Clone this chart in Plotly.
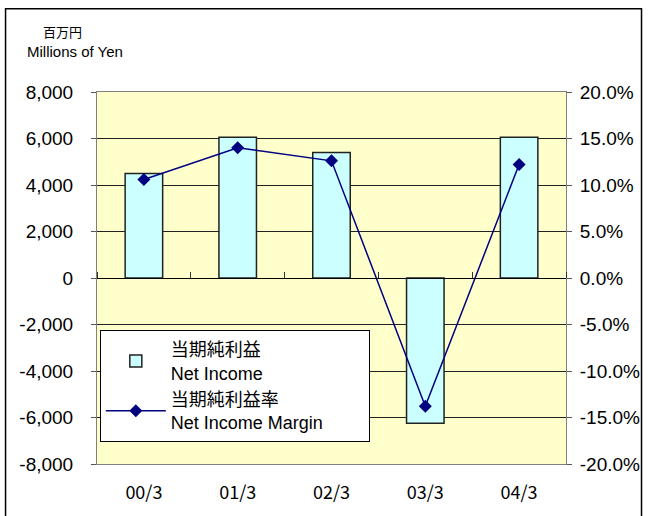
import plotly.graph_objects as go

categories = ["00/3", "01/3", "02/3", "03/3", "04/3"]
net_income = [4500, 6050, 5400, -6250, 6050]
margin = [10.6, 14.0, 12.6, -13.8, 12.2]

yen_ticks = [-8000, -6000, -4000, -2000, 0, 2000, 4000, 6000, 8000]
yen_labels = [f"{v:,}" for v in yen_ticks]
pct_ticks = [-20, -15, -10, -5, 0, 5, 10, 15, 20]
pct_labels = [f"{v:.1f}%" for v in pct_ticks]

JP_FONT = "Noto Sans CJK JP"
EN_FONT = "Arial, Liberation Sans"
MIX_FONT = "Arial, Liberation Sans, Noto Sans CJK JP"
PAD = "\u00a0" * 8  # widens the legend box like the original

fig = go.Figure()

fig.add_trace(go.Bar(
    x=categories, y=net_income,
    name="当期純利益<br>Net Income",
    marker=dict(color="#CCFFFF", line=dict(color="#222222", width=1.5)),
    width=0.4,
    xaxis="x", yaxis="y",
))

fig.add_trace(go.Scatter(
    x=categories, y=margin,
    name="当期純利益率<br>Net Income Margin" + PAD,
    mode="lines+markers",
    line=dict(color="#000080", width=1.5),
    marker=dict(symbol="diamond", size=10, color="#000080"),
    xaxis="x2", yaxis="y2",
))

fig.update_layout(
    width=652, height=516,
    margin=dict(l=97, r=83, t=92, b=48),
    paper_bgcolor="white",
    plot_bgcolor="#FFFFCC",
    font=dict(family=EN_FONT, size=19, color="black"),
    showlegend=True,
    legend=dict(
        x=0.006, y=0.36, xanchor="left", yanchor="top",
        bgcolor="white", bordercolor="black", borderwidth=1,
        font=dict(family=MIX_FONT, size=18),
        tracegroupgap=10, itemwidth=60,
    ),
    xaxis=dict(
        type="category", range=[-0.5, 4.5],
        showgrid=False, zeroline=False,
        ticks="", tickfont=dict(family=JP_FONT, size=18),
        ticklabelstandoff=12,
        showline=True, linecolor="#808080", linewidth=1, mirror=True,
    ),
    xaxis2=dict(
        type="category", range=[-0.5, 4.5],
        overlaying="x", anchor="free", position=0.5, side="top",
        showgrid=False, zeroline=False,
        showticklabels=False, ticks="outside", tickson="boundaries",
        ticklen=6, tickcolor="#333333",
        showline=True, linecolor="black", linewidth=1,
    ),
    yaxis=dict(
        range=[-8000, 8000], tickvals=yen_ticks, ticktext=yen_labels,
        showgrid=True, gridcolor="#222222", gridwidth=1,
        zeroline=False,
        ticks="outside", ticklen=5, tickcolor="#555555",
        ticklabelstandoff=14,
        showline=True, linecolor="#808080", linewidth=1,
    ),
    yaxis2=dict(
        range=[-20, 20], tickvals=pct_ticks, ticktext=pct_labels,
        overlaying="y", side="right", anchor="x",
        showgrid=False, zeroline=False,
        ticks="outside", ticklen=5, tickcolor="#555555",
        ticklabelstandoff=4,
        showline=True, linecolor="#808080", linewidth=1,
    ),
)

# outer chart border
fig.add_shape(type="rect", xref="paper", yref="paper",
              x0=-0.195, x1=1.161, y0=-0.2, y1=1.224,
              line=dict(color="black", width=1.5), layer="below")

fig.add_annotation(text="百万円", xref="paper", yref="paper",
                   x=-0.074, y=1.162, xanchor="center", yanchor="middle",
                   showarrow=False, font=dict(family=JP_FONT, size=13))
fig.add_annotation(text="Millions of Yen", xref="paper", yref="paper",
                   x=-0.047, y=1.11, xanchor="center", yanchor="middle",
                   showarrow=False, font=dict(family=EN_FONT, size=15))

fig.write_html("out.html", config={"displayModeBar": False},
               post_script="document.body.style.margin='0';")
